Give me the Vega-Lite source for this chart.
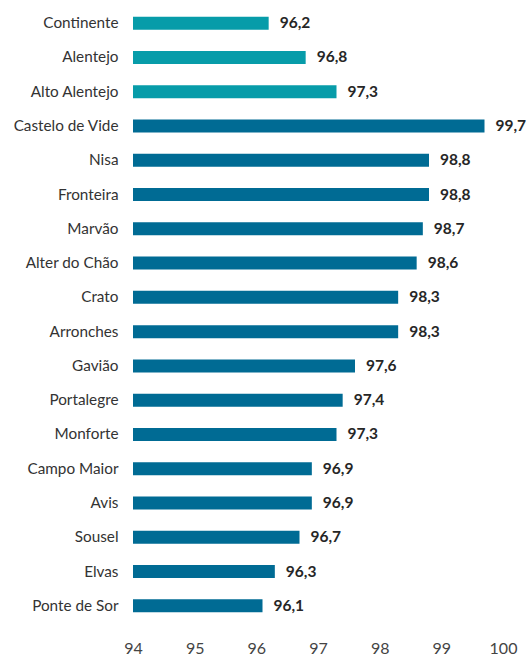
{
  "$schema": "https://vega.github.io/schema/vega-lite/v6.json",
  "width": 370,
  "height": 617,
  "autosize": {"type": "none"},
  "padding": {"left": 133, "top": 6, "right": 26, "bottom": 32},
  "background": "white",
  "config": {"view": {"stroke": null}, "font": "Lato"},
  "data": {
    "values": [
      {"name": "Continente", "value": 96.2, "label": "96,2", "group": "region"},
      {"name": "Alentejo", "value": 96.8, "label": "96,8", "group": "region"},
      {"name": "Alto Alentejo", "value": 97.3, "label": "97,3", "group": "region"},
      {"name": "Castelo de Vide", "value": 99.7, "label": "99,7", "group": "muni"},
      {"name": "Nisa", "value": 98.8, "label": "98,8", "group": "muni"},
      {"name": "Fronteira", "value": 98.8, "label": "98,8", "group": "muni"},
      {"name": "Marvão", "value": 98.7, "label": "98,7", "group": "muni"},
      {"name": "Alter do Chão", "value": 98.6, "label": "98,6", "group": "muni"},
      {"name": "Crato", "value": 98.3, "label": "98,3", "group": "muni"},
      {"name": "Arronches", "value": 98.3, "label": "98,3", "group": "muni"},
      {"name": "Gavião", "value": 97.6, "label": "97,6", "group": "muni"},
      {"name": "Portalegre", "value": 97.4, "label": "97,4", "group": "muni"},
      {"name": "Monforte", "value": 97.3, "label": "97,3", "group": "muni"},
      {"name": "Campo Maior", "value": 96.9, "label": "96,9", "group": "muni"},
      {"name": "Avis", "value": 96.9, "label": "96,9", "group": "muni"},
      {"name": "Sousel", "value": 96.7, "label": "96,7", "group": "muni"},
      {"name": "Elvas", "value": 96.3, "label": "96,3", "group": "muni"},
      {"name": "Ponte de Sor", "value": 96.1, "label": "96,1", "group": "muni"}
    ]
  },
  "encoding": {
    "y": {
      "field": "name",
      "type": "nominal",
      "sort": null,
      "title": null,
      "axis": {
        "domain": false,
        "ticks": false,
        "labelPadding": 15,
        "labelFontSize": 15.3,
        "labelColor": "#333333",
        "labelFont": "Lato"
      }
    },
    "x": {
      "field": "value",
      "type": "quantitative",
      "scale": {"domain": [94, 100], "nice": false, "zero": false, "clamp": true},
      "title": null,
      "axis": {
        "values": [94, 95, 96, 97, 98, 99, 100],
        "grid": false,
        "domain": false,
        "ticks": false,
        "labelFlush": false,
        "labelBound": false,
        "labelOverlap": false,
        "labelPadding": 17,
        "labelFontSize": 16,
        "labelColor": "#444444",
        "labelFont": "Lato"
      }
    }
  },
  "layer": [
    {
      "mark": {"type": "bar", "size": 13},
      "encoding": {
        "color": {
          "field": "group",
          "type": "nominal",
          "scale": {"domain": ["region", "muni"], "range": ["#079ca9", "#006b94"]},
          "legend": null
        }
      }
    },
    {
      "mark": {"type": "text", "align": "left", "baseline": "middle", "dx": 11, "fontWeight": "bold", "fontSize": 15.5, "color": "#262626", "font": "Lato"},
      "encoding": {"text": {"field": "label"}}
    }
  ]
}
